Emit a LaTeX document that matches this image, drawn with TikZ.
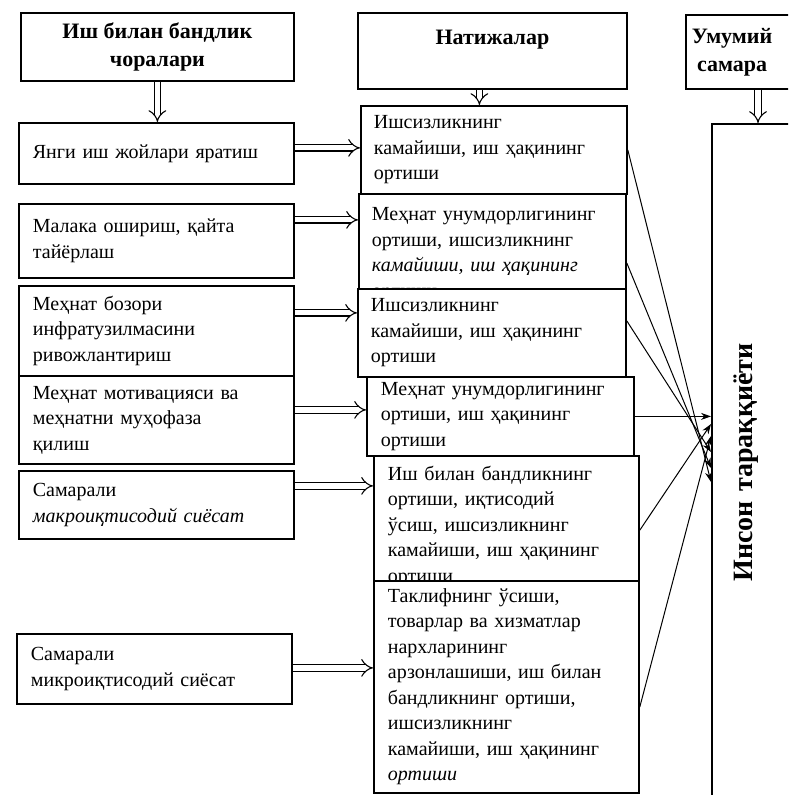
\documentclass[tikz,border=0pt]{standalone}
\usepackage{fontspec}
\setmainfont{Liberation Serif}
\usepackage{graphicx}
\usetikzlibrary{arrows.meta,positioning}

\tikzset{
  measure/.style={rectangle, draw, line width=0.9pt, fill=white, anchor=north west, align=left,
    text width=123.5pt, inner xsep=7pt, inner ysep=2pt, font=\fontsize{10}{12.75}\selectfont},
  result/.style={rectangle, draw, line width=0.9pt, fill=white, anchor=north west, align=left,
    inner xsep=6.5pt, inner ysep=2pt, font=\fontsize{10}{12.75}\selectfont},
  head/.style={rectangle, draw, line width=0.9pt, anchor=north west, align=center,
    font=\bfseries\fontsize{11}{14}\selectfont},
  dbl/.style={double, double distance=2.6pt, line width=0.55pt, -{Implies[scale=1.6]}},
  link/.style={line width=0.5pt, -{Stealth[length=5pt,width=3.5pt]}}
}

\begin{document}
\begin{tikzpicture}[x=0.5pt, y=-0.5pt]
\useasboundingbox (0,0) rectangle (788,795);
\clip (0,0) rectangle (788,795);

% headers
\node[head, minimum width=136.5pt, minimum height=34pt] (hL) at (20,12) {Иш билан бандлик\\чоралари};
\node[head, minimum width=134.5pt, minimum height=38pt, text depth=14pt] (hM) at (357,12) {Натижалар};
\node[head, align=left, text width=60pt, inner xsep=3pt, minimum height=37pt] (hR) at (685,14)
  {\begin{tabular}{@{}c@{}}Умумий\\самара\end{tabular}};

% measures
\node[measure, minimum height=30.5pt] (L1) at (18,122) {Янги иш жойлари яратиш};
\node[measure, minimum height=37pt] (L2) at (18,203) {Малака ошириш, қайта\\тайёрлаш};
\node[measure, minimum height=45pt] (L3) at (18,285) {Меҳнат бозори\\инфратузилмасини\\ривожлантириш};
\node[measure, minimum height=44pt] (L4) at (18,375) {Меҳнат мотивацияси ва\\меҳнатни муҳофаза\\қилиш};
\node[measure, minimum height=34pt] (L5) at (18,470) {Самарали\\\textit{макроиқтисодий сиёсат}};
\node[measure, minimum height=35pt] (L6) at (16,633) {Самарали\\микроиқтисодий сиёсат};

% results
\node[result, text width=120pt, minimum height=44pt] (M1) at (360,105)
  {Ишсизликнинг\\камайиши, иш ҳақининг\\ортиши};
\node[result, text width=120.5pt, inner ysep=7pt, minimum height=47.5pt] (M2) at (358,193)
  {Меҳнат унумдорлигининг\\ортиши, ишсизликнинг\\\textit{камайиши, иш ҳақининг}\\ортиши};
\node[result, text width=121pt, minimum height=44pt] (M3) at (357,288)
  {Ишсизликнинг\\камайиши, иш ҳақининг\\ортиши};
\node[result, text width=119.5pt, inner xsep=7pt, minimum height=39.5pt] (M4) at (366,376)
  {Меҳнат унумдорлигининг\\ортиши, иш ҳақининг\\ортиши};
\node[result, text width=118.5pt, inner xsep=7pt, inner ysep=5pt, minimum height=62.5pt] (M5) at (373,455)
  {Иш билан бандликнинг\\ортиши, иқтисодий\\ўсиш, ишсизликнинг\\камайиши, иш ҳақининг\\ортиши};
\node[result, text width=118.5pt, inner xsep=7pt, minimum height=106pt] (M6) at (373,580)
  {Таклифнинг ўсиши,\\товарлар ва хизматлар\\нархларининг\\арзонлашиши, иш билан\\бандликнинг ортиши,\\ишсизликнинг\\камайиши, иш ҳақининг\\\textit{ортиши}};

% overall effect
\node[draw, line width=0.9pt, anchor=north west, align=left, text width=50pt, inner xsep=11pt,
  minimum height=338.5pt, font=\bfseries\fontsize{14}{16}\selectfont] (Inson) at (711,123)
  {\rotatebox{90}{Инсон тараққиёти}};

% header arrows
\draw[dbl] (hL.south) -- (hL.south |- L1.north);
\coordinate (c1) at ([xshift=-6.5pt]hM.south);
\draw[dbl] (c1) -- (c1 |- M1.north);
\coordinate (c2) at ([xshift=36.5pt]hR.south west);
\draw[dbl] (c2) -- (c2 |- Inson.north);

% measures to results
\coordinate (a1) at ([yshift=2.75pt]L1.east);
\draw[dbl] (a1) -- (a1 -| M1.west);
\coordinate (a2) at ([yshift=10.5pt]L2.east);
\draw[dbl] (a2) -- (a2 -| M2.west);
\coordinate (a3) at ([yshift=9pt]L3.east);
\draw[dbl] (a3) -- (a3 -| M3.west);
\coordinate (a4) at ([yshift=5pt]L4.east);
\draw[dbl] (a4) -- (a4 -| M4.west);
\coordinate (a5) at ([yshift=9.5pt]L5.east);
\draw[dbl] (a5) -- (a5 -| M5.west);
\coordinate (a6) at ([yshift=0.5pt]L6.east);
\draw[dbl] (a6) -- (a6 -| M6.west);

% results to overall effect
\draw[link] (M1.east) -- (Inson.west |- 0,482);
\draw[link] ([yshift=-35pt]M2.north east) -- (Inson.west |- 0,468);
\draw[link] ([yshift=6pt]M3.east) -- (Inson.west |- 0,452);
\draw[link] (M4.east) -- (M4.east -| Inson.west);
\draw[link] ([yshift=-2pt]M5.north east |- M5.east) -- (Inson.west |- 0,424);
\draw[link] ([yshift=-10pt]M6.east) -- (Inson.west |- 0,436);
\end{tikzpicture}
\end{document}
